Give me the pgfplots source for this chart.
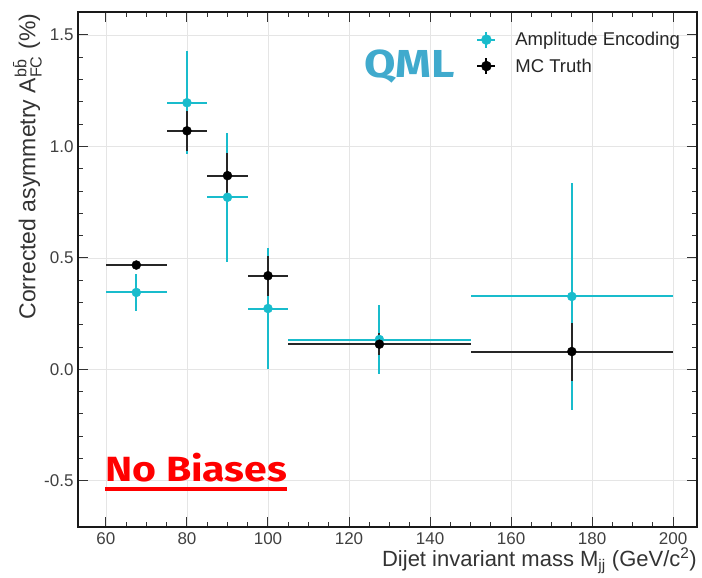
\documentclass[border=0pt]{standalone}
\usepackage{pgfplots}
\pgfplotsset{compat=1.18}
\usepackage{amsmath}
\usepackage{fontspec}
\setmainfont{Liberation Sans}
\newfontfamily\firab[FakeStretch=1.17]{Fira Sans Bold}
\definecolor{aecyan}{RGB}{25,188,204}
\definecolor{qmlblue}{RGB}{64,170,205}
\newcommand{\myul}[1]{\setbox0\hbox{#1}\rlap{\rule[-9pt]{\wd0}{4pt}}\box0}
\begin{document}
\begin{tikzpicture}
\useasboundingbox (-78pt,-51pt) rectangle (624pt,527pt);
\begin{axis}[
  width=619pt, height=515pt, scale only axis,
  xmin=53.1, xmax=205.9, ymin=-0.707, ymax=1.603,
  xtick={60,80,...,200}, ytick={-0.5,0,0.5,1,1.5},
  minor x tick num=3, minor y tick num=4,
  tick align=inside, major tick length=10pt, minor tick length=5pt,
  grid=major, major grid style={black!10, line width=0.7pt},
  axis line style={line width=1.6pt, black!90},
  tick style={black!80, line width=1pt},
  /pgf/number format/assume math mode=true,
  ticklabel style={font=\fontsize{17}{20}\selectfont, text=black!75},
  xticklabel style={yshift=-2pt},
  yticklabel style={xshift=-1pt, /pgf/number format/.cd, fixed, fixed zerofill, precision=1},
  xlabel={Dijet invariant mass M\textsubscript{jj} (GeV/c\textsuperscript{2})},
  xlabel style={at={(axis description cs:1,0)}, anchor=north east, yshift=-21pt, inner sep=0pt, font=\fontsize{22}{26}\selectfont, text=black!80},
  ylabel={Corrected asymmetry A$^{\text{b\={b}}}_{\text{FC}}$ (\%)},
  ylabel style={at={(axis description cs:-0.058,0.997)}, anchor=south east, inner sep=0pt, font=\fontsize{23}{27}\selectfont, text=black!80},
  legend style={at={(axis description cs:0.976,0.965)}, anchor=north east, draw=none, fill=none, inner sep=0pt, font=\fontsize{18.5}{22}\selectfont, text=black!85, row sep=7.5pt, /tikz/every odd column/.append style={column sep=17pt}},
  legend cell align=left,
]
\addplot[only marks, mark=*, mark size=4.5pt, color=aecyan,
  error bars/.cd, x dir=both, x explicit, y dir=both, y explicit, error mark=none,
  error bar style={line width=2pt, color=aecyan},
  /pgfplots/legend image code/.code={
    \draw[aecyan, line width=2pt] (0.3cm,-8pt) -- (0.3cm,8pt);
    \draw[aecyan, line width=2pt] (0.3cm-9pt,0) -- (0.3cm+9pt,0);
    \fill[aecyan] (0.3cm,0) circle (5pt);}]
  table[x=x, y=y, x error=ex, y error=ey] {
x y ex ey
67.5 0.345 7.5 0.085
80 1.196 5 0.23
90 0.772 5 0.29
100 0.273 5 0.27
127.5 0.134 22.5 0.155
175 0.327 25 0.51
};
\addlegendentry{Amplitude Encoding}
\addplot[only marks, mark=*, mark size=4.5pt, color=black,
  error bars/.cd, x dir=both, x explicit, y dir=both, y explicit, error mark=none,
  error bar style={line width=2pt, color=black!85},
  /pgfplots/legend image code/.code={
    \draw[black, line width=2pt] (0.3cm,-8pt) -- (0.3cm,8pt);
    \draw[black, line width=2pt] (0.3cm-9pt,0) -- (0.3cm+9pt,0);
    \fill[black] (0.3cm,0) circle (5pt);}]
  table[x=x, y=y, x error=ex, y error=ey] {
x y ex ey
67.5 0.468 7.5 0.02
80 1.07 5 0.09
90 0.869 5 0.10
100 0.42 5 0.09
127.5 0.113 22.5 0.05
175 0.08 25 0.13
};
\addlegendentry{MC Truth}
\node[anchor=base west, inner sep=0pt, text=qmlblue, font=\firab\fontsize{39}{42}\selectfont] at (axis cs:123.8,1.310) {QML};
\node[anchor=base west, inner sep=0pt, text=red, font=\firab\fontsize{35}{40}\selectfont] at (axis cs:59.8,-0.505) {\myul{No Biases}};
\end{axis}
\end{tikzpicture}
\end{document}
